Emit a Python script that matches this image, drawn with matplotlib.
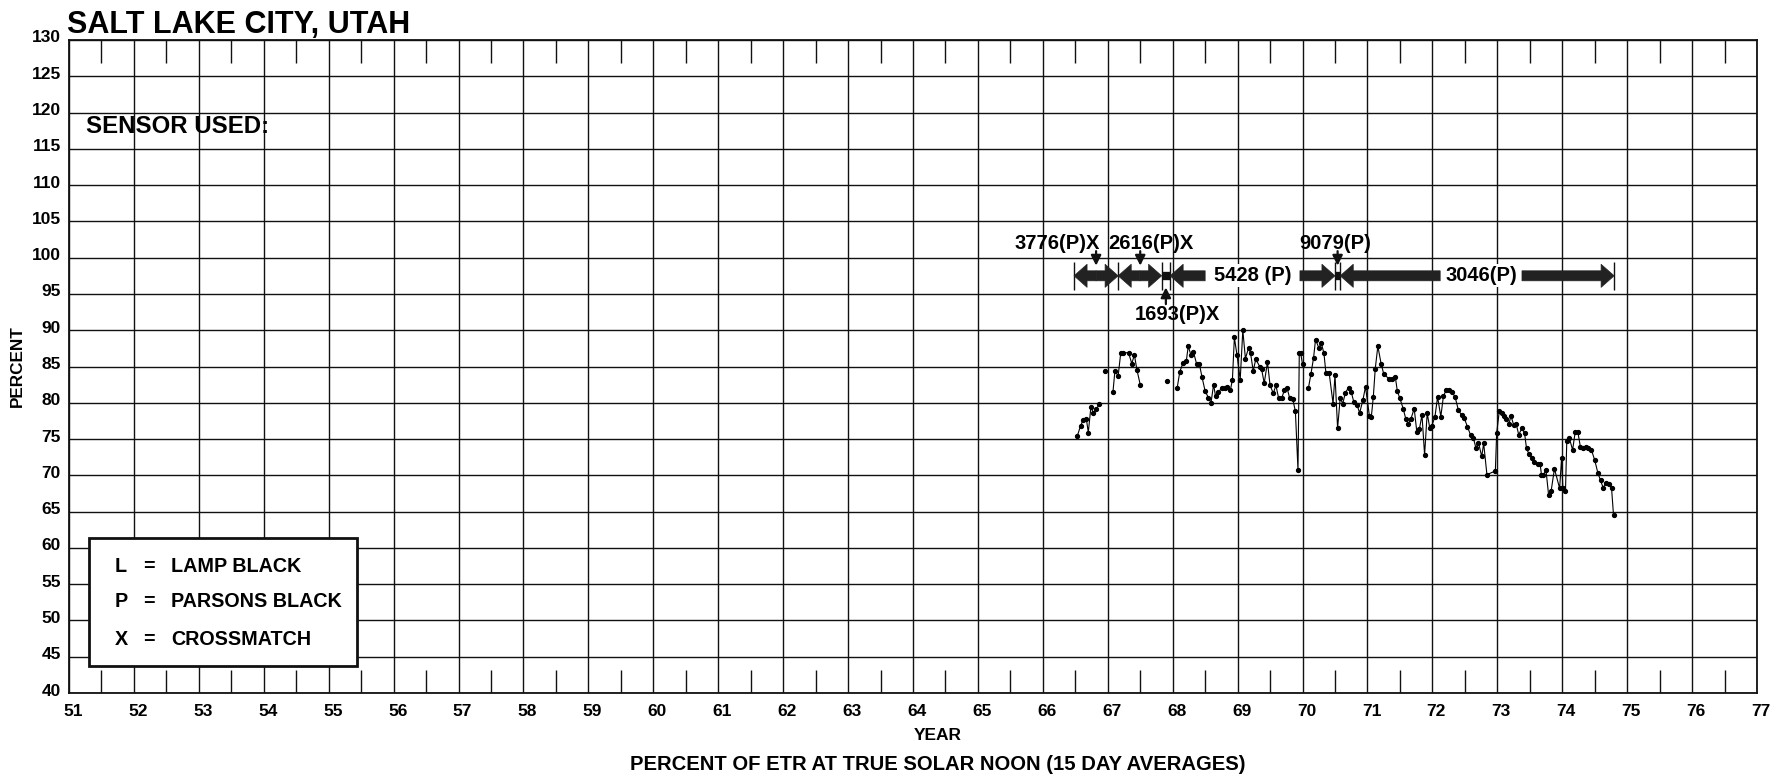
import numpy as np
import matplotlib
matplotlib.use('Agg')
import matplotlib.pyplot as plt
from matplotlib.patches import Rectangle
from matplotlib.transforms import ScaledTranslation

nan = np.nan

# 15-day averages, year (19xx) vs percent of ETR
years = [66.53, 66.58, 66.62, 66.67, 66.70, 66.74, 66.78, 66.82, 66.87, nan,
         66.95, nan,
         67.08, 67.11, 67.16, 67.20, 67.24, 67.32, 67.37, 67.41, 67.45, 67.50, nan,
         67.91, nan,
         68.07, 68.11, 68.16, 68.21, 68.24, 68.28, 68.32, 68.37, 68.41, 68.45,
         68.50, 68.55, 68.59, 68.63, 68.66, 68.70, 68.76, 68.80, 68.84, 68.89,
         68.92, 68.95, 68.99, 69.04, 69.08, 69.12, 69.17, 69.20, 69.24, 69.28,
         69.34, 69.37, 69.41, 69.46, 69.50, 69.55, 69.59, 69.63, 69.68, 69.72,
         69.76, 69.80, 69.85, 69.89, 69.93, 69.95, 69.97, 70.00, nan,
         70.09, 70.13, 70.17, 70.20, 70.25, 70.29, 70.33, 70.36, 70.41, 70.47,
         70.50, 70.54, 70.58, 70.62, 70.66, 70.71, 70.75, 70.79, 70.84, 70.88,
         70.93, 70.97, 71.03, 71.06, 71.09, 71.12, 71.16, 71.21, 71.25, 71.33,
         71.38, 71.43, 71.46, 71.50, 71.55, 71.59, 71.63, 71.67, 71.72, 71.76,
         71.80, 71.84, 71.88, 71.92, 71.96, 71.99, 72.04, 72.08, 72.13, 72.17,
         72.21, 72.25, 72.30, 72.35, 72.40, 72.45, 72.49, 72.54, 72.59, 72.63,
         72.67, 72.71, 72.76, 72.79, 72.84, 72.97, 72.99, 73.03, 73.07, 73.11,
         73.14, 73.18, 73.21, 73.25, 73.29, 73.33, 73.38, 73.42, 73.45, 73.49,
         73.54, 73.57, 73.62, 73.66, 73.68, 73.71, 73.75, 73.79, 73.83, 73.88,
         73.96, 73.99, 74.01, 74.05, 74.07, 74.11, 74.16, 74.20, 74.24, 74.28,
         74.32, 74.36, 74.40, 74.45, 74.50, 74.55, 74.59, 74.63, 74.67, 74.72,
         74.76, 74.79]
pct = [75.4, 76.8, 77.6, 77.8, 75.9, 79.4, 78.6, 79.1, 79.8, nan,
       84.4, nan,
       81.5, 84.4, 83.7, 86.9, 86.9, 86.9, 85.4, 86.6, 84.5, 82.5, nan,
       83.0, nan,
       82.1, 84.3, 85.5, 85.8, 87.8, 86.6, 87.0, 85.3, 85.4, 83.6,
       81.6, 80.7, 80.0, 82.5, 80.9, 81.5, 82.0, 82.0, 82.2, 81.8,
       83.2, 89.0, 86.6, 83.2, 90.0, 86.1, 87.6, 86.8, 84.4, 86.0,
       85.0, 84.6, 82.7, 85.6, 82.4, 81.3, 82.4, 80.7, 80.7, 81.7,
       82.1, 80.7, 80.5, 78.8, 70.7, 86.9, 86.9, 85.3, nan,
       82.0, 84.0, 86.2, 88.7, 87.6, 88.2, 86.8, 84.1, 84.1, 79.9,
       83.8, 76.5, 80.6, 79.9, 81.4, 82.1, 81.5, 80.1, 79.7, 78.6,
       80.4, 82.2, 78.2, 78.1, 80.8, 84.7, 87.8, 85.4, 84.0, 83.3,
       83.3, 83.5, 81.6, 80.6, 79.2, 77.8, 77.1, 77.8, 79.2, 76.0,
       76.4, 78.3, 72.8, 78.6, 76.5, 76.8, 78.1, 80.8, 78.1, 80.9,
       81.7, 81.8, 81.5, 80.8, 79.0, 78.3, 77.9, 76.7, 75.5, 75.2,
       73.8, 74.5, 72.6, 74.4, 70.1, 70.6, 75.8, 78.8, 78.6, 78.2,
       77.8, 77.1, 78.2, 77.0, 77.1, 75.6, 76.5, 75.8, 73.7, 72.9,
       72.4, 71.8, 71.6, 71.5, 70.1, 70.1, 70.7, 67.3, 67.9, 70.9,
       68.2, 72.4, 68.2, 67.8, 74.7, 75.1, 73.5, 76.0, 76.0, 73.9,
       73.8, 73.9, 73.8, 73.5, 72.1, 70.3, 69.3, 68.3, 68.9, 68.8,
       68.2, 64.5]

# sensor periods (start, end, label)
seg_start = [66.48, 67.16, 67.83, 67.96, 70.50, 70.58]
seg_end = [67.16, 67.83, 67.96, 70.50, 70.58, 74.80]
seg_labels = ['3776(P)X', '2616(P)X', '1693(P)X', '5428 (P)', '9079(P)', '3046(P)']

legend_keys = ['L', 'P', 'X']
legend_names = ['LAMP BLACK', 'PARSONS BLACK', 'CROSSMATCH']

plt.rcParams['font.family'] = ['Liberation Sans', 'DejaVu Sans']
plt.rcParams['font.weight'] = 'bold'

fig = plt.figure(figsize=(17.86, 7.78), dpi=100)
ax = fig.add_axes([69/1786, 85/778, (1757-69)/1786, (693-40)/778])
ax.set_xlim(51, 77)
ax.set_ylim(40, 130)
ax.set_xticks(range(51, 78))
ax.set_yticks(range(40, 131, 5))
ax.grid(True, color='#111', lw=1.0, zorder=0)
ax.set_axisbelow(True)
for s in ax.spines.values():
    s.set_linewidth(1.3)
    s.set_color('#111')
ax.tick_params(length=0, labelsize=12.5)
ax.tick_params(axis='x', pad=8)
ax.tick_params(axis='y', pad=6)
for lab in ax.get_xticklabels():
    lab.set_fontweight('bold')
    lab.set_transform(lab.get_transform() + ScaledTranslation(0.04, 0, fig.dpi_scale_trans))
for lab in ax.get_yticklabels():
    lab.set_fontweight('bold')
    lab.set_transform(lab.get_transform() + ScaledTranslation(0, 0.035, fig.dpi_scale_trans))

# half-year ticks at top and bottom rows
half = np.arange(51.5, 77, 1)
ax.vlines(half, 126.8, 130, color='#111', lw=1.0, zorder=1)
ax.vlines(half, 40, 43.2, color='#111', lw=1.0, zorder=1)

# data
ax.plot(years, pct, '-o', color='black', lw=0.8, ms=2.8, zorder=3)

# sensor arrows
ya = 97.5
ax.vlines(sorted(set(seg_start + seg_end)), ya - 1.9, ya + 1.9, color='#111', lw=1.0, zorder=4)
st = 'simple,head_length=0.47,head_width=0.83,tail_width=0.36'
def fat(x0, x1):
    ax.annotate('', xy=(x1, ya), xytext=(x0, ya),
                arrowprops=dict(arrowstyle=st, mutation_scale=20, color='#222',
                                lw=0.5, shrinkA=0, shrinkB=0), zorder=4)

pointer = dict(arrowstyle='-|>,head_length=0.5,head_width=0.25', lw=1.6, color='#111',
               mutation_scale=12, shrinkA=0, shrinkB=0)
fs = 14.5
for i in range(len(seg_labels)):
    a, b, lab = seg_start[i], seg_end[i], seg_labels[i]
    if i in (0, 1):
        m = (a + b) / 2
        fat(m, a)
        fat(m, b)
        tx = [66.22, 67.67][i]
        ax.text(tx, 101.9, lab, fontsize=fs, ha='center', va='center')
        px = [66.82, 67.50][i]
        ax.annotate('', xy=(px, 98.9), xytext=(px, 100.9), arrowprops=pointer)
    elif i in (2, 4):
        ax.plot([a, b], [ya, ya], color='#111', lw=6, solid_capstyle='butt', zorder=4)
        m = (a + b) / 2
        if i == 2:
            ax.text(68.07, 92.1, lab, fontsize=fs, ha='center', va='center')
            ax.annotate('', xy=(m, 95.9), xytext=(m, 93.6), arrowprops=pointer)
        else:
            ax.text(70.50, 101.9, lab, fontsize=fs, ha='center', va='center')
            ax.annotate('', xy=(m, 98.9), xytext=(m, 100.9), arrowprops=pointer)
    else:
        tx = 69.23 if i == 3 else 72.75
        gap = 0.73 if i == 3 else 0.63
        fat(tx - gap, a)
        fat(tx + gap, b)
        ax.text(tx, ya, lab, fontsize=fs, ha='center', va='center', zorder=5,
                bbox=dict(facecolor='white', edgecolor='none', pad=1.5))

# sensor key box
ax.add_patch(Rectangle((51.31, 43.7), 55.44 - 51.31, 61.4 - 43.7, facecolor='white',
                       edgecolor='#111', lw=2.0, zorder=5))
for k, (key, name) in enumerate(zip(legend_keys, legend_names)):
    yb = [56.7, 51.8, 46.6][k]
    ax.text(51.71, yb, key, fontsize=14.2, va='baseline', zorder=6)
    ax.text(52.23, yb, '=', fontsize=14.2, va='baseline', ha='center', zorder=6)
    ax.text(52.57, yb, name, fontsize=14.2, va='baseline', zorder=6)

ax.text(51.26, 117.2, 'SENSOR USED:', fontsize=17.3, va='baseline', zorder=6)

fig.text(67/1786, 1 - 33/778, 'SALT LAKE CITY, UTAH', fontsize=22, fontweight='bold',
         va='baseline')
fig.text(937.5/1786, 1 - 740/778, 'YEAR', fontsize=12.5, ha='center', va='baseline')
fig.text(937.5/1786, 1 - 770/778, 'PERCENT OF ETR AT TRUE SOLAR NOON (15 DAY AVERAGES)',
         fontsize=14.6, ha='center', va='baseline')
fig.text(17/1786, 1 - 366/778, 'PERCENT', fontsize=12.3, rotation=90, ha='center', va='center')

fig.savefig('out.png', dpi=100, facecolor='white')
